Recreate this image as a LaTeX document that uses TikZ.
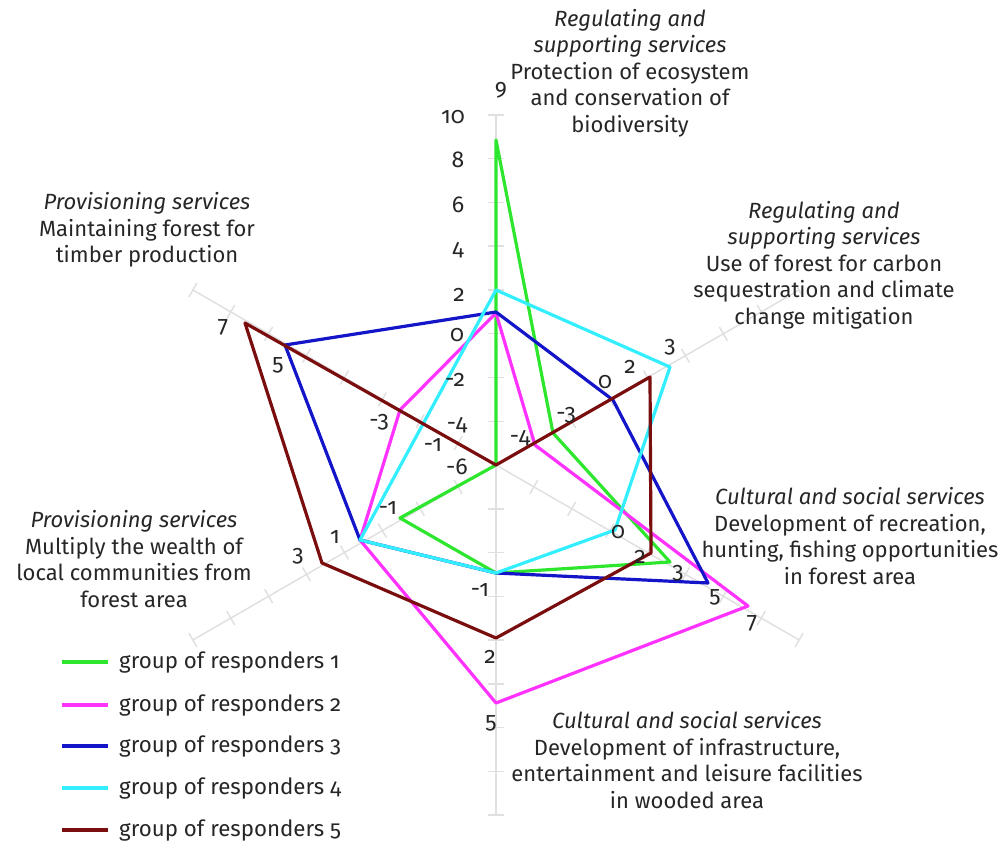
\documentclass[tikz,border=0pt]{standalone}
\usepackage{fontspec}
\setmainfont{Fira Sans}[Numbers=OldStyle]
\usetikzlibrary{calc}
\definecolor{axisgrey}{RGB}{224,224,224}
\definecolor{cgreen}{RGB}{45,230,45}
\definecolor{cmagenta}{RGB}{255,50,255}
\definecolor{cblue}{RGB}{20,20,200}
\definecolor{ccyan}{RGB}{50,238,255}
\definecolor{cbrown}{RGB}{122,14,14}
\begin{document}
\begin{tikzpicture}[x=1pt,y=-1pt,
  axis/.style={draw=axisgrey, line width=1.5pt},
  series/.style={line width=3.2pt, line join=round},
  num/.style={font=\fontsize{23}{26}\selectfont, inner sep=0pt, text=black!85},
  title/.style={align=center, font=\fontsize{22}{26.5}\selectfont, inner sep=0pt, text=black!85},
  legtext/.style={anchor=west, font=\fontsize{22.3}{24}\selectfont, inner sep=0pt, text=black!85},
]
\useasboundingbox (0,0) rectangle (1005,845);
\coordinate (O) at (496,465);
% axes with ticks
\foreach \a in {90,30,-30,-90,-150,150} {
  \coordinate (E\a) at ($(O)+(\a:350)$);
  \draw[axis] (O) -- (E\a);
  \foreach \k in {1,...,8} {
    \coordinate (T) at ($(O)+(\a:43.75*\k)$);
    \draw[axis] ($(T)+(\a+90:8)$) -- ($(T)+(\a-90:8)$);
  }
}
% group 1 (green)
\coordinate (g1) at (496,140);
\coordinate (g2) at (553,433);
\coordinate (g3) at (670,562);
\coordinate (g4) at (496,573);
\coordinate (g5) at (400,518);
\coordinate (g6) at (496,465);
\draw[series, cgreen] (g1) -- (g2) -- (g3) -- (g4) -- (g5) -- (g6) -- cycle;
% group 2 (magenta)
\coordinate (m1) at (496,313);
\coordinate (m2) at (535,445);
\coordinate (m3) at (748,606);
\coordinate (m4) at (496,703);
\coordinate (m5) at (360,540);
\coordinate (m6) at (400,410);
\draw[series, cmagenta] (m1) -- (m2) -- (m3) -- (m4) -- (m5) -- (m6) -- cycle;
% group 3 (blue)
\coordinate (b1) at (496,312);
\coordinate (b2) at (613,400);
\coordinate (b3) at (708,583);
\coordinate (b4) at (496,573);
\coordinate (b5) at (360,540);
\coordinate (b6) at (285,345);
\draw[series, cblue] (b1) -- (b2) -- (b3) -- (b4) -- (b5) -- (b6) -- cycle;
% group 4 (cyan)
\coordinate (c1) at (496,290);
\coordinate (c2) at (670,367);
\coordinate (c3) at (615,530);
\coordinate (c4) at (496,573);
\coordinate (c5) at (360,540);
\coordinate (c6) at (423,424);
\draw[series, ccyan] (c1) -- (c2) -- (c3) -- (c4) -- (c5) -- (c6) -- cycle;
% group 5 (brown)
\coordinate (r1) at (496,465);
\coordinate (r2) at (650,377);
\coordinate (r3) at (651,553);
\coordinate (r4) at (496,638);
\coordinate (r5) at (322,563);
\coordinate (r6) at (245,323);
\draw[series, cbrown] (r1) -- (r2) -- (r3) -- (r4) -- (r5) -- (r6) -- cycle;
% vertical scale
\node[num] (s10) at (453,117) {10};
\node[num] (s8) at (458,160) {8};
\node[num] (s6) at (458,205) {6};
\node[num] (s4) at (458,250) {4};
\node[num] (s2) at (459,295) {2};
\node[num] (s0) at (457,335) {0};
\node[num] (sm2) at (455,380) {-2};
\node[num] (sm4) at (457,425) {-4};
\node[num] (sm6) at (457,467) {-6};
% value labels
\node[num] (l9) at (501,90) {9};
\node[num] (la) at (566,415) {-3};
\node[num] (lb) at (520,438) {-4};
\node[num] (lc) at (605,382) {0};
\node[num] (ld) at (630,367) {2};
\node[num] (le) at (670,347) {3};
\node[num] (lf) at (618,532) {0};
\node[num] (lg) at (640,557) {2};
\node[num] (lh) at (678,573) {3};
\node[num] (li) at (715,597) {5};
\node[num] (lj) at (752,623) {7};
\node[num] (lk) at (490,657) {2};
\node[num] (ll) at (491,723) {5};
\node[num] (lm) at (480,590) {-1};
\node[num] (ln) at (388,508) {-1};
\node[num] (lo) at (335,537) {1};
\node[num] (lp) at (298,556) {3};
\node[num] (lq) at (379,422) {-3};
\node[num] (lr) at (433,445) {-1};
\node[num] (ls) at (278,365) {5};
\node[num] (lt) at (223,327) {7};
% titles
\node[title] (t1) at (630,73) {\textit{Regulating and}\\\textit{supporting services}\\Protection of ecosystem\\and conservation of\\biodiversity};
\node[title] (t2) at (824,265) {\textit{Regulating and}\\\textit{supporting services}\\Use of forest for carbon\\sequestration and climate\\change mitigation};
\node[title] (t3) at (147,230) {\textit{Provisioning services}\\Maintaining forest for\\timber production};
\node[title] (t4) at (134,559) {\textit{Provisioning services}\\Multiply the wealth of\\local communities from\\forest area};
\node[title] (t5) at (850,536) {\textit{Cultural and social services}\\Development of recreation,\\hunting, fishing opportunities\\in forest area};
\node[title] (t6) at (687,760) {\textit{Cultural and social services}\\Development of infrastructure,\\entertainment and leisure facilities\\in wooded area};
% legend
\foreach \i/\c/\y in {1/cgreen/662, 2/cmagenta/705, 3/cblue/746, 4/ccyan/788, 5/cbrown/830} {
  \coordinate (La\i) at (62,\y);
  \coordinate (Lb\i) at (108,\y);
  \draw[line width=3.2pt, \c] (La\i) -- (Lb\i);
  \node[legtext] (Lt\i) at (119,\y+1) {group of responders \i};
}
\end{tikzpicture}
\end{document}
